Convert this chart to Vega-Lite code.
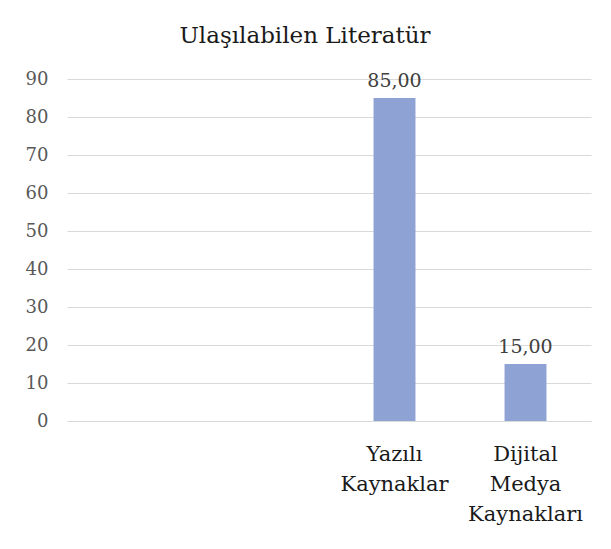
{
  "$schema": "https://vega.github.io/schema/vega-lite/v6.json",
  "width": 524,
  "height": 342,
  "autosize": {"type": "none"},
  "padding": {"left": 67, "top": 79, "right": 20, "bottom": 128},
  "background": "white",
  "config": {
    "font": "DejaVu Serif",
    "axis": {"labelFont": "DejaVu Serif"},
    "text": {"font": "DejaVu Serif"},
    "title": {"font": "DejaVu Serif"},
    "view": {"stroke": null},
    "locale": {"number": {"decimal": ",", "thousands": ".", "grouping": [3], "currency": ["", " TL"]}}
  },
  "title": {
    "text": "Ulaşılabilen Literatür",
    "fontSize": 23,
    "fontWeight": "normal",
    "color": "#1a1a1a",
    "anchor": "middle",
    "offset": 22,
    "dx": -24
  },
  "data": {
    "values": [
      {"kaynak": "Yazılı Kaynaklar", "oran": 85},
      {"kaynak": "Dijital Medya Kaynakları", "oran": 15}
    ]
  },
  "encoding": {
    "x": {
      "field": "kaynak",
      "type": "nominal",
      "sort": null,
      "scale": {
        "domain": ["k1", "k2", "Yazılı Kaynaklar", "Dijital Medya Kaynakları"],
        "paddingInner": 0.68,
        "paddingOuter": 0.34
      },
      "axis": {
        "title": null,
        "labelAngle": 0,
        "ticks": false,
        "domain": true,
        "domainColor": "#D9D9D9",
        "labelFont": "DejaVu Serif",
        "labelFontSize": 21,
        "labelColor": "#1a1a1a",
        "labelBaseline": "top",
        "labelLineHeight": 30,
        "labelPadding": 22,
        "labelExpr": "datum.value == 'Yazılı Kaynaklar' ? ['Yazılı', 'Kaynaklar'] : datum.value == 'Dijital Medya Kaynakları' ? ['Dijital', 'Medya', 'Kaynakları'] : ''"
      }
    },
    "y": {
      "field": "oran",
      "type": "quantitative",
      "scale": {"domain": [0, 90], "nice": false},
      "axis": {
        "title": null,
        "values": [0, 10, 20, 30, 40, 50, 60, 70, 80, 90],
        "domain": false,
        "ticks": false,
        "labelPadding": 19,
        "labelFont": "DejaVu Serif",
        "labelFontSize": 18,
        "labelColor": "#595959",
        "gridColor": "#D9D9D9",
        "gridWidth": 1
      }
    }
  },
  "layer": [
    {"mark": {"type": "bar", "color": "#8FA2D4"}},
    {
      "mark": {"type": "text", "baseline": "bottom", "dy": -7, "fontSize": 19, "font": "DejaVu Serif", "color": "#404040"},
      "encoding": {"text": {"field": "oran", "type": "quantitative", "format": ".2f"}}
    }
  ]
}
